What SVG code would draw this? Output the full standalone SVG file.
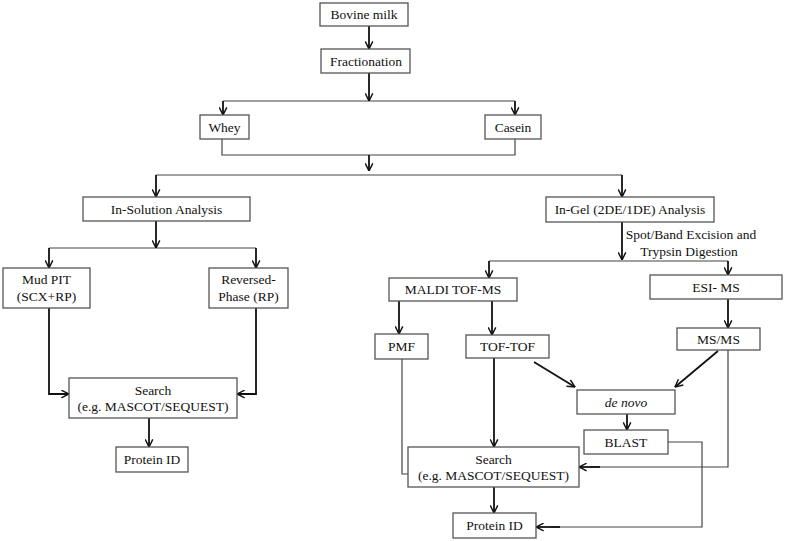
<svg xmlns="http://www.w3.org/2000/svg" width="785" height="541" viewBox="0 0 785 541">
<defs>
<marker id="ah" viewBox="0 0 10 10" refX="9.5" refY="5" markerWidth="9" markerHeight="9" markerUnits="userSpaceOnUse" orient="auto">
<path d="M1,0.8 L9.5,5 L1,9.2" fill="none" stroke="#111" stroke-width="1.6"/>
</marker>
</defs>
<rect x="0" y="0" width="785" height="541" fill="#fff"/>
<g id="connectors" fill="none">
<g stroke="#444" stroke-width="1.2">
<path d="M223,101 H515"/>
<path d="M222,139 V155 H515 V139"/>
<path d="M156,175 H622"/>
<path d="M49,248 H256"/>
<path d="M489,261 H728"/>
<path d="M402,359 V474 H408"/>
<path d="M728,350 V467 H590"/>
<path d="M668,442 H702 V527 H550"/>
</g>
<g stroke="#111" stroke-width="1.8" marker-end="url(#ah)">
<path d="M369,26 V49"/>
<path d="M369,73 V101"/>
<path d="M223,101 V115"/>
<path d="M515,101 V115"/>
<path d="M369,155 V171"/>
<path d="M156,175 V197"/>
<path d="M622,175 V197"/>
<path d="M156,221 V248"/>
<path d="M49,248 V268"/>
<path d="M256,248 V268"/>
<path d="M49,308 V394 H69"/>
<path d="M256,308 V394 H237"/>
<path d="M149,418 V447"/>
<path d="M622,222 V260"/>
<path d="M489,261 V278"/>
<path d="M728,261 V275"/>
<path d="M399,301 V334"/>
<path d="M492,301 V335"/>
<path d="M728,299 V328"/>
<path d="M494,358 V447"/>
<path d="M534,362 L575,387"/>
<path d="M718,351 L675,387"/>
<path d="M627,414 V430"/>
<path d="M600,467 H579"/>
<path d="M560,527 H536"/>
<path d="M494,487 V513"/>
</g>
</g>
<g id="nodes" fill="#111" text-anchor="middle">
<g id="n-milk"><rect x="320" y="3" width="88" height="23" fill="#fff" stroke="#555" stroke-width="1.3"/><text font-family="Liberation Serif" font-size="13.5" x="364" y="19">Bovine milk</text></g>
<g id="n-fractionation"><rect x="321" y="49" width="89" height="24" fill="#fff" stroke="#555" stroke-width="1.3"/><text font-family="Liberation Serif" font-size="13.5" x="366" y="66">Fractionation</text></g>
<g id="n-whey"><rect x="200" y="115" width="49" height="24" fill="#fff" stroke="#555" stroke-width="1.3"/><text font-family="Liberation Serif" font-size="13.5" x="224.5" y="132">Whey</text></g>
<g id="n-casein"><rect x="485" y="115" width="56" height="24" fill="#fff" stroke="#555" stroke-width="1.3"/><text font-family="Liberation Serif" font-size="13.5" x="513" y="132">Casein</text></g>
<g id="n-insolution"><rect x="83" y="197" width="167" height="24" fill="#fff" stroke="#555" stroke-width="1.3"/><text font-family="Liberation Serif" font-size="13.5" x="166.5" y="214">In-Solution Analysis</text></g>
<g id="n-ingel"><rect x="546" y="197" width="168" height="25" fill="#fff" stroke="#555" stroke-width="1.3"/><text font-family="Liberation Serif" font-size="13.5" x="630" y="214">In-Gel (2DE/1DE) Analysis</text></g>
<g id="n-mudpit"><rect x="3" y="268" width="87" height="40" fill="#fff" stroke="#555" stroke-width="1.3"/><text font-family="Liberation Serif" font-size="13.5" x="46.5" y="284">Mud PIT</text><text font-family="Liberation Serif" font-size="13.5" x="46.5" y="301">(SCX+RP)</text></g>
<g id="n-rp"><rect x="209" y="268" width="79" height="40" fill="#fff" stroke="#555" stroke-width="1.3"/><text font-family="Liberation Serif" font-size="13.5" x="248.5" y="284">Reversed-</text><text font-family="Liberation Serif" font-size="13.5" x="248.5" y="301">Phase (RP)</text></g>
<g id="n-search-l"><rect x="69" y="378" width="168" height="40" fill="#fff" stroke="#555" stroke-width="1.3"/><text font-family="Liberation Serif" font-size="13.5" x="153" y="395">Search</text><text font-family="Liberation Serif" font-size="13.5" x="153" y="411">(e.g. MASCOT/SEQUEST)</text></g>
<g id="n-pid-l"><rect x="116" y="447" width="72" height="25" fill="#fff" stroke="#555" stroke-width="1.3"/><text font-family="Liberation Serif" font-size="13.5" x="152" y="464">Protein ID</text></g>
<g id="n-maldi"><rect x="389" y="278" width="128" height="23" fill="#fff" stroke="#555" stroke-width="1.3"/><text font-family="Liberation Serif" font-size="13.5" x="453" y="294">MALDI TOF-MS</text></g>
<g id="n-esi"><rect x="650" y="275" width="132" height="24" fill="#fff" stroke="#555" stroke-width="1.3"/><text font-family="Liberation Serif" font-size="13.5" x="716" y="292">ESI- MS</text></g>
<g id="n-pmf"><rect x="375" y="334" width="53" height="25" fill="#fff" stroke="#555" stroke-width="1.3"/><text font-family="Liberation Serif" font-size="13.5" x="401.5" y="351">PMF</text></g>
<g id="n-toftof"><rect x="466" y="335" width="83" height="23" fill="#fff" stroke="#555" stroke-width="1.3"/><text font-family="Liberation Serif" font-size="13.5" x="507.5" y="351">TOF-TOF</text></g>
<g id="n-msms"><rect x="677" y="328" width="83" height="22" fill="#fff" stroke="#555" stroke-width="1.3"/><text font-family="Liberation Serif" font-size="13.5" x="718.5" y="343.5">MS/MS</text></g>
<g id="n-denovo"><rect x="577" y="390" width="98" height="24" fill="#fff" stroke="#555" stroke-width="1.3"/><text font-family="Liberation Serif" font-size="13.5" x="626" y="407" font-style="italic">de novo</text></g>
<g id="n-blast"><rect x="584" y="430" width="84" height="24" fill="#fff" stroke="#555" stroke-width="1.3"/><text font-family="Liberation Serif" font-size="13.5" x="626" y="447">BLAST</text></g>
<g id="n-search-r"><rect x="408" y="447" width="171" height="40" fill="#fff" stroke="#555" stroke-width="1.3"/><text font-family="Liberation Serif" font-size="13.5" x="493.5" y="464">Search</text><text font-family="Liberation Serif" font-size="13.5" x="493.5" y="480">(e.g. MASCOT/SEQUEST)</text></g>
<g id="n-pid-r"><rect x="453" y="513" width="83" height="25" fill="#fff" stroke="#555" stroke-width="1.3"/><text font-family="Liberation Serif" font-size="13.5" x="494.5" y="530">Protein ID</text></g>
<g id="label-spot"><text font-family="Liberation Serif" font-size="13.5" x="691" y="239">Spot/Band Excision and</text><text font-family="Liberation Serif" font-size="13.5" x="689" y="256">Trypsin Digestion</text></g>
</g>
</svg>
